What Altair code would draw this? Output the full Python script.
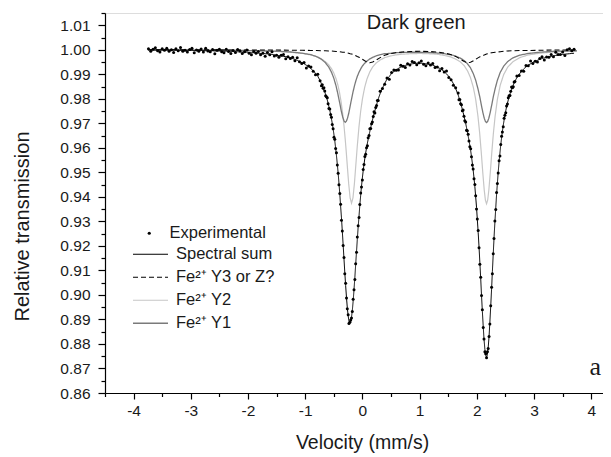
import altair as alt
import pandas as pd

# ---------------- data ----------------
# Experimental spectrum, split into segments (velocity in mm/s, relative transmission)
vel_left_wing = [-3.74, -3.70, -3.66, -3.62, -3.58, -3.54, -3.50, -3.46, -3.42, -3.38, -3.34, -3.30, -3.26, -3.22, -3.18, -3.14, -3.10, -3.06, -3.02, -2.98, -2.94, -2.90, -2.86, -2.82, -2.78, -2.74, -2.70, -2.66, -2.62, -2.58, -2.54, -2.50, -2.46, -2.42, -2.38, -2.34, -2.30, -2.26, -2.22, -2.18, -2.14, -2.10, -2.06, -2.02, -1.98, -1.94, -1.90, -1.86, -1.82, -1.78, -1.74, -1.70, -1.66, -1.62, -1.58, -1.54, -1.50, -1.46, -1.42, -1.38, -1.34, -1.30, -1.26, -1.22, -1.18, -1.14, -1.10, -1.06, -1.02, -0.98, -0.94, -0.90, -0.86, -0.82, -0.78, -0.74]
exp_left_wing = [1.0004, 0.9994, 1.0002, 1.0008, 0.9996, 0.9991, 1.0004, 0.9998, 1.0006, 0.9994, 1.0000, 0.9989, 1.0004, 0.9996, 1.0009, 0.9994, 0.9998, 0.9991, 1.0001, 1.0006, 0.9988, 0.9999, 0.9994, 1.0003, 0.9991, 1.0006, 0.9995, 0.9992, 1.0001, 0.9984, 0.9998, 1.0002, 0.9992, 0.9988, 1.0002, 0.9993, 0.9985, 0.9997, 0.9989, 1.0001, 0.9995, 0.9985, 0.9992, 0.9999, 0.9986, 0.9980, 0.9993, 0.9986, 0.9993, 0.9980, 0.9986, 0.9974, 0.9989, 0.9980, 0.9992, 0.9975, 0.9978, 0.9969, 0.9978, 0.9981, 0.9963, 0.9972, 0.9964, 0.9970, 0.9955, 0.9967, 0.9951, 0.9944, 0.9948, 0.9926, 0.9934, 0.9930, 0.9912, 0.9898, 0.9900, 0.9874]
sum_left_wing = [1.0000, 1.0000, 1.0000, 0.9999, 0.9999, 0.9999, 0.9999, 0.9999, 0.9999, 0.9999, 0.9999, 0.9999, 0.9998, 0.9998, 0.9998, 0.9998, 0.9998, 0.9998, 0.9998, 0.9998, 0.9997, 0.9997, 0.9997, 0.9997, 0.9997, 0.9996, 0.9996, 0.9996, 0.9996, 0.9995, 0.9995, 0.9995, 0.9994, 0.9994, 0.9994, 0.9993, 0.9993, 0.9993, 0.9992, 0.9992, 0.9991, 0.9991, 0.9990, 0.9990, 0.9989, 0.9988, 0.9988, 0.9987, 0.9986, 0.9985, 0.9985, 0.9984, 0.9983, 0.9982, 0.9981, 0.9979, 0.9978, 0.9976, 0.9975, 0.9973, 0.9972, 0.9970, 0.9967, 0.9964, 0.9961, 0.9957, 0.9952, 0.9948, 0.9943, 0.9937, 0.9931, 0.9923, 0.9914, 0.9904, 0.9892, 0.9874]

vel_left_dip = [-0.716, -0.702, -0.687, -0.673, -0.658, -0.643, -0.629, -0.614, -0.600, -0.585, -0.570, -0.556, -0.541, -0.527, -0.512, -0.497, -0.483, -0.468, -0.454, -0.439, -0.424, -0.410, -0.395, -0.381, -0.366, -0.351, -0.337, -0.322, -0.308, -0.293, -0.278, -0.264, -0.249, -0.235, -0.220, -0.205, -0.191, -0.176, -0.162, -0.147, -0.132, -0.118, -0.103, -0.089, -0.074, -0.059, -0.045, -0.030, -0.016, -0.001, 0.014, 0.028, 0.043, 0.057, 0.072, 0.087, 0.101, 0.116, 0.130, 0.145, 0.160, 0.174, 0.189, 0.203, 0.218, 0.233, 0.247, 0.262, 0.276]
exp_left_dip = [0.9853, 0.9857, 0.9843, 0.9845, 0.9832, 0.9812, 0.9808, 0.9804, 0.9780, 0.9760, 0.9758, 0.9736, 0.9725, 0.9695, 0.9678, 0.9643, 0.9635, 0.9597, 0.9580, 0.9530, 0.9496, 0.9449, 0.9414, 0.9370, 0.9305, 0.9261, 0.9202, 0.9153, 0.9086, 0.9048, 0.8987, 0.8944, 0.8919, 0.8883, 0.8889, 0.8898, 0.8906, 0.8932, 0.8982, 0.9021, 0.9063, 0.9127, 0.9174, 0.9236, 0.9282, 0.9316, 0.9369, 0.9416, 0.9440, 0.9469, 0.9512, 0.9532, 0.9565, 0.9574, 0.9600, 0.9609, 0.9641, 0.9650, 0.9678, 0.9679, 0.9698, 0.9705, 0.9728, 0.9747, 0.9742, 0.9765, 0.9773, 0.9793, 0.9793]
sum_left_dip = [0.9861, 0.9853, 0.9846, 0.9836, 0.9828, 0.9818, 0.9806, 0.9795, 0.9783, 0.9768, 0.9753, 0.9737, 0.9718, 0.9700, 0.9677, 0.9653, 0.9629, 0.9599, 0.9569, 0.9534, 0.9496, 0.9456, 0.9411, 0.9362, 0.9314, 0.9259, 0.9205, 0.9147, 0.9092, 0.9038, 0.8988, 0.8948, 0.8914, 0.8894, 0.8886, 0.8891, 0.8908, 0.8938, 0.8974, 0.9021, 0.9071, 0.9123, 0.9177, 0.9227, 0.9278, 0.9322, 0.9367, 0.9407, 0.9443, 0.9477, 0.9507, 0.9533, 0.9558, 0.9579, 0.9599, 0.9619, 0.9635, 0.9652, 0.9667, 0.9683, 0.9698, 0.9712, 0.9725, 0.9739, 0.9751, 0.9763, 0.9776, 0.9787, 0.9799]

vel_middle = [0.31, 0.35, 0.39, 0.43, 0.47, 0.51, 0.55, 0.59, 0.63, 0.67, 0.71, 0.75, 0.79, 0.83, 0.87, 0.91, 0.95, 0.99, 1.03, 1.07, 1.11, 1.15, 1.19, 1.23, 1.27, 1.31, 1.35, 1.39, 1.43, 1.47, 1.51, 1.55, 1.59, 1.63]
exp_middle = [0.9831, 0.9842, 0.9859, 0.9885, 0.9880, 0.9907, 0.9918, 0.9916, 0.9918, 0.9937, 0.9933, 0.9928, 0.9943, 0.9938, 0.9952, 0.9948, 0.9939, 0.9947, 0.9954, 0.9941, 0.9935, 0.9946, 0.9938, 0.9944, 0.9928, 0.9930, 0.9914, 0.9924, 0.9909, 0.9913, 0.9887, 0.9878, 0.9855, 0.9845]
sum_middle = [0.9821, 0.9843, 0.9863, 0.9880, 0.9891, 0.9904, 0.9911, 0.9918, 0.9924, 0.9929, 0.9933, 0.9936, 0.9939, 0.9941, 0.9943, 0.9944, 0.9945, 0.9945, 0.9945, 0.9944, 0.9943, 0.9941, 0.9939, 0.9937, 0.9933, 0.9929, 0.9924, 0.9918, 0.9911, 0.9902, 0.9891, 0.9878, 0.9862, 0.9842]

vel_right_dip = [1.674, 1.688, 1.703, 1.717, 1.732, 1.747, 1.761, 1.776, 1.790, 1.805, 1.820, 1.834, 1.849, 1.863, 1.878, 1.893, 1.907, 1.922, 1.936, 1.951, 1.966, 1.980, 1.995, 2.009, 2.024, 2.039, 2.053, 2.068, 2.082, 2.097, 2.112, 2.126, 2.141, 2.155, 2.170, 2.185, 2.199, 2.214, 2.228, 2.243, 2.258, 2.272, 2.287, 2.301, 2.316, 2.331, 2.345, 2.360, 2.374, 2.389, 2.404, 2.418, 2.433, 2.447, 2.462, 2.477, 2.491, 2.506, 2.520, 2.535, 2.550, 2.564, 2.579, 2.593, 2.608, 2.623, 2.637, 2.652, 2.666]
exp_right_dip = [0.9824, 0.9796, 0.9797, 0.9780, 0.9776, 0.9751, 0.9754, 0.9729, 0.9711, 0.9705, 0.9672, 0.9670, 0.9655, 0.9628, 0.9604, 0.9596, 0.9564, 0.9530, 0.9514, 0.9474, 0.9450, 0.9405, 0.9351, 0.9310, 0.9263, 0.9192, 0.9125, 0.9072, 0.8998, 0.8940, 0.8867, 0.8820, 0.8768, 0.8760, 0.8744, 0.8768, 0.8782, 0.8830, 0.8881, 0.8956, 0.9031, 0.9086, 0.9168, 0.9230, 0.9302, 0.9348, 0.9418, 0.9455, 0.9497, 0.9547, 0.9567, 0.9614, 0.9647, 0.9665, 0.9686, 0.9721, 0.9733, 0.9743, 0.9771, 0.9779, 0.9804, 0.9812, 0.9813, 0.9831, 0.9848, 0.9845, 0.9849, 0.9869, 0.9871]
sum_right_dip = [0.9816, 0.9805, 0.9795, 0.9783, 0.9770, 0.9757, 0.9744, 0.9730, 0.9715, 0.9700, 0.9683, 0.9667, 0.9648, 0.9630, 0.9610, 0.9588, 0.9564, 0.9538, 0.9510, 0.9477, 0.9441, 0.9401, 0.9357, 0.9308, 0.9254, 0.9195, 0.9133, 0.9067, 0.8999, 0.8933, 0.8872, 0.8819, 0.8778, 0.8754, 0.8746, 0.8757, 0.8786, 0.8830, 0.8888, 0.8953, 0.9023, 0.9095, 0.9166, 0.9233, 0.9296, 0.9354, 0.9408, 0.9456, 0.9501, 0.9542, 0.9578, 0.9611, 0.9640, 0.9667, 0.9692, 0.9713, 0.9733, 0.9751, 0.9767, 0.9782, 0.9795, 0.9808, 0.9819, 0.9829, 0.9839, 0.9848, 0.9857, 0.9864, 0.9872]

vel_right_wing = [2.70, 2.74, 2.78, 2.82, 2.86, 2.90, 2.94, 2.98, 3.02, 3.06, 3.10, 3.14, 3.18, 3.22, 3.26, 3.30, 3.34, 3.38, 3.42, 3.46, 3.50, 3.54, 3.58, 3.62, 3.66, 3.70]
exp_right_wing = [0.9893, 0.9895, 0.9913, 0.9912, 0.9936, 0.9935, 0.9954, 0.9944, 0.9953, 0.9950, 0.9964, 0.9972, 0.9958, 0.9971, 0.9970, 0.9981, 0.9972, 0.9990, 0.9981, 0.9981, 0.9991, 0.9977, 1.0000, 1.0004, 0.9996, 1.0002]
sum_right_wing = [0.9886, 0.9900, 0.9912, 0.9922, 0.9930, 0.9937, 0.9943, 0.9948, 0.9953, 0.9957, 0.9961, 0.9964, 0.9967, 0.9969, 0.9971, 0.9973, 0.9975, 0.9977, 0.9978, 0.9980, 0.9981, 0.9982, 0.9983, 0.9984, 0.9985, 0.9986]

# Fitted sub-spectra
comp_velocity = [-3.75, -3.25, -2.75, -2.25, -1.85, -1.50, -1.25, -1.05, -0.90, -0.80, -0.72, -0.65, -0.59, -0.54, -0.50, -0.46, -0.43, -0.40, -0.37, -0.345, -0.32, -0.30, -0.28, -0.26, -0.24, -0.215, -0.19, -0.165, -0.14, -0.115, -0.09, -0.06, -0.03, 0.00, 0.04, 0.08, 0.13, 0.18, 0.24, 0.31, 0.39, 0.48, 0.58, 0.70, 0.85, 1.00, 1.15, 1.30, 1.43, 1.54, 1.63, 1.71, 1.78, 1.84, 1.89, 1.94, 1.98, 2.02, 2.05, 2.08, 2.105, 2.13, 2.15, 2.17, 2.19, 2.21, 2.235, 2.26, 2.29, 2.32, 2.36, 2.41, 2.47, 2.54, 2.63, 2.75, 2.90, 3.10, 3.35, 3.75]
fe_y1 = [0.9999, 0.9999, 0.9998, 0.9998, 0.9996, 0.9994, 0.9991, 0.9986, 0.9980, 0.9972, 0.9962, 0.9948, 0.9930, 0.9908, 0.9884, 0.9852, 0.9821, 0.9787, 0.9751, 0.9726, 0.9709, 0.9704, 0.9709, 0.9721, 0.9740, 0.9769, 0.9799, 0.9827, 0.9852, 0.9873, 0.9891, 0.9908, 0.9922, 0.9934, 0.9945, 0.9954, 0.9963, 0.9969, 0.9975, 0.9980, 0.9984, 0.9985, 0.9988, 0.9989, 0.9990, 0.9990, 0.9989, 0.9987, 0.9984, 0.9980, 0.9974, 0.9966, 0.9956, 0.9942, 0.9926, 0.9902, 0.9876, 0.9841, 0.9810, 0.9774, 0.9745, 0.9721, 0.9708, 0.9703, 0.9708, 0.9721, 0.9745, 0.9774, 0.9810, 0.9841, 0.9876, 0.9908, 0.9933, 0.9952, 0.9967, 0.9978, 0.9985, 0.9990, 0.9994, 0.9996]
fe_y2 = [0.9999, 0.9999, 0.9998, 0.9997, 0.9996, 0.9993, 0.9990, 0.9985, 0.9979, 0.9972, 0.9963, 0.9952, 0.9939, 0.9923, 0.9905, 0.9881, 0.9857, 0.9826, 0.9784, 0.9740, 0.9686, 0.9634, 0.9576, 0.9514, 0.9454, 0.9396, 0.9374, 0.9396, 0.9454, 0.9530, 0.9606, 0.9686, 0.9750, 0.9799, 0.9847, 0.9881, 0.9910, 0.9930, 0.9946, 0.9958, 0.9968, 0.9974, 0.9979, 0.9982, 0.9984, 0.9985, 0.9984, 0.9982, 0.9977, 0.9971, 0.9962, 0.9951, 0.9935, 0.9913, 0.9886, 0.9846, 0.9798, 0.9729, 0.9660, 0.9575, 0.9497, 0.9427, 0.9387, 0.9372, 0.9387, 0.9427, 0.9497, 0.9575, 0.9660, 0.9729, 0.9798, 0.9856, 0.9899, 0.9929, 0.9951, 0.9968, 0.9979, 0.9986, 0.9991, 0.9995]
fe_y3 = [1.0000, 1.0000, 1.0000, 0.9999, 0.9999, 0.9999, 0.9998, 0.9998, 0.9997, 0.9997, 0.9996, 0.9996, 0.9995, 0.9995, 0.9994, 0.9993, 0.9993, 0.9992, 0.9991, 0.9990, 0.9990, 0.9989, 0.9988, 0.9987, 0.9986, 0.9984, 0.9983, 0.9981, 0.9979, 0.9976, 0.9973, 0.9970, 0.9965, 0.9961, 0.9955, 0.9950, 0.9947, 0.9950, 0.9958, 0.9968, 0.9978, 0.9984, 0.9988, 0.9991, 0.9993, 0.9994, 0.9993, 0.9991, 0.9987, 0.9981, 0.9973, 0.9962, 0.9952, 0.9947, 0.9949, 0.9955, 0.9961, 0.9967, 0.9971, 0.9974, 0.9977, 0.9979, 0.9981, 0.9983, 0.9984, 0.9985, 0.9987, 0.9988, 0.9989, 0.9990, 0.9991, 0.9992, 0.9994, 0.9995, 0.9996, 0.9997, 0.9997, 0.9998, 0.9999, 0.9999]

# legend entries and axis ticks
line_names = ["Spectral sum", "Fe²⁺ Y3 or Z?", "Fe²⁺ Y2", "Fe²⁺ Y1"]
line_colors = ["#000000", "#000000", "#c6c6c6", "#7a7a7a"]
x_tick_values = [-4.5, -4.0, -3.5, -3.0, -2.5, -2.0, -1.5, -1.0, -0.5, 0.0, 0.5, 1.0, 1.5, 2.0, 2.5, 3.0, 3.5, 4.0]
y_tick_values = [0.86, 0.865, 0.87, 0.875, 0.88, 0.885, 0.89, 0.895, 0.90, 0.905, 0.91, 0.915, 0.92, 0.925, 0.93, 0.935, 0.94, 0.945, 0.95, 0.955, 0.96, 0.965, 0.97, 0.975, 0.98, 0.985, 0.99, 0.995, 1.00, 1.005, 1.01, 1.015]

# ---------------- build tables ----------------
velocity = vel_left_wing + vel_left_dip + vel_middle + vel_right_dip + vel_right_wing
experimental = exp_left_wing + exp_left_dip + exp_middle + exp_right_dip + exp_right_wing
spectral_sum = sum_left_wing + sum_left_dip + sum_middle + sum_right_dip + sum_right_wing

exp_df = pd.DataFrame({"Velocity": velocity, "T": experimental, "series": "Experimental"})
sum_df = pd.DataFrame({"Velocity": velocity, "T": spectral_sum, "series": "Spectral sum"})
y1_df = pd.DataFrame({"Velocity": comp_velocity, "T": fe_y1, "series": "Fe²⁺ Y1"})
y2_df = pd.DataFrame({"Velocity": comp_velocity, "T": fe_y2, "series": "Fe²⁺ Y2"})
y3_df = pd.DataFrame({"Velocity": comp_velocity, "T": fe_y3, "series": "Fe²⁺ Y3 or Z?"})
ann_title = pd.DataFrame({"Velocity": [0.94], "T": [1.0109], "label": ["Dark green"]})
ann_letter = pd.DataFrame({"Velocity": [4.07], "T": [0.8706], "label": ["a"]})

FONT = "Liberation Sans"
INK = "#1a1a1a"

x_major = "datum.value % 1 === 0"
y_major = "abs(round(datum.value * 100) - datum.value * 100) < 0.01"

x_axis = alt.Axis(
    values=x_tick_values,
    title="Velocity (mm/s)",
    labelExpr=f"{x_major} ? (datum.value < 0 ? '-' + abs(datum.value) : '' + datum.value) : ''",
    tickSize={"condition": {"test": x_major, "value": 6}, "value": 3.5},
    labelPadding=4,
    labelOverlap=False,
    labelFlush=False,
    titleX=257,
    titleY=49,
    titleFontSize=19.5,
    titleAlign="center",
    titleBaseline="middle",
)
y_axis = alt.Axis(
    values=y_tick_values,
    title="Relative transmission",
    labelExpr=f"{y_major} ? format(datum.value, '.2f') : ''",
    tickSize={"condition": {"test": y_major, "value": 7}, "value": 4},
    labelPadding=8,
    labelOverlap=False,
    labelFlush=False,
    titleX=-83,
    titleY=213,
    titleAlign="center",
    titleBaseline="middle",
)

X = alt.X("Velocity:Q", scale=alt.Scale(domain=[-4.5, 4.206], nice=False, zero=False), axis=x_axis)
Y = alt.Y("T:Q", scale=alt.Scale(domain=[0.86, 1.015], nice=False, zero=False), axis=y_axis)

line_legend = alt.Legend(
    orient="none", legendX=27, legendY=233, title=None,
    symbolType="stroke", symbolSize=1225, symbolStrokeWidth=1.5,
    labelFontSize=16.5, labelFont=FONT, labelColor=INK, labelOffset=7,
    rowPadding=6, padding=0, clipHeight=16.5,
)
line_color = alt.Color("series:N", scale=alt.Scale(domain=line_names, range=line_colors), legend=line_legend)
line_dash = alt.StrokeDash("series:N", scale=alt.Scale(domain=line_names, range=[[1, 0], [5, 3], [1, 0], [1, 0]]), legend=line_legend)
line_width = alt.StrokeWidth("series:N", scale=alt.Scale(domain=line_names, range=[1.0, 1.3, 1.7, 1.7]), legend=None)


def line_layer(df):
    return alt.Chart(df).mark_line(interpolate="linear").encode(
        x=X, y=Y, color=line_color, strokeDash=line_dash, strokeWidth=line_width
    )


lines = alt.layer(line_layer(y2_df), line_layer(y1_df), line_layer(y3_df), line_layer(sum_df))

points = alt.Chart(exp_df).mark_circle(size=9, opacity=1).encode(
    x=X, y=Y,
    color=alt.Color(
        "series:N",
        scale=alt.Scale(domain=["Experimental"], range=["#000000"]),
        legend=alt.Legend(
            orient="none", legendX=36, legendY=212, title=None,
            symbolType="circle", symbolSize=10,
            labelFontSize=16.5, labelFont=FONT, labelColor=INK, labelOffset=12, padding=0,
        ),
    ),
)

title_text = alt.Chart(ann_title).mark_text(font=FONT, fontSize=20, color=INK, align="center", baseline="middle").encode(
    x=X, y=Y, text="label:N"
)
letter_text = alt.Chart(ann_letter).mark_text(font="Liberation Serif", fontSize=26, color=INK, align="center", baseline="middle").encode(
    x=X, y=Y, text="label:N"
)

chart = alt.layer(lines, points, title_text, letter_text).resolve_scale(
    color="independent", strokeDash="independent", strokeWidth="independent"
).properties(
    width=498,
    height=380,
    padding={"left": 97, "top": 5, "right": 0, "bottom": 60},
    autosize=alt.AutoSizeParams(type="none"),
).configure_view(stroke=None).configure(font=FONT).configure_axis(
    domainColor="#000000", domainWidth=1.2, tickColor="#000000", tickWidth=1.2,
    labelFont=FONT, labelFontSize=15.5, labelColor=INK,
    titleFont=FONT, titleFontSize=20, titleFontWeight="normal", titleColor=INK,
    grid=False,
)

chart.save("out.html", embed_options={"renderer": "svg", "actions": False})
